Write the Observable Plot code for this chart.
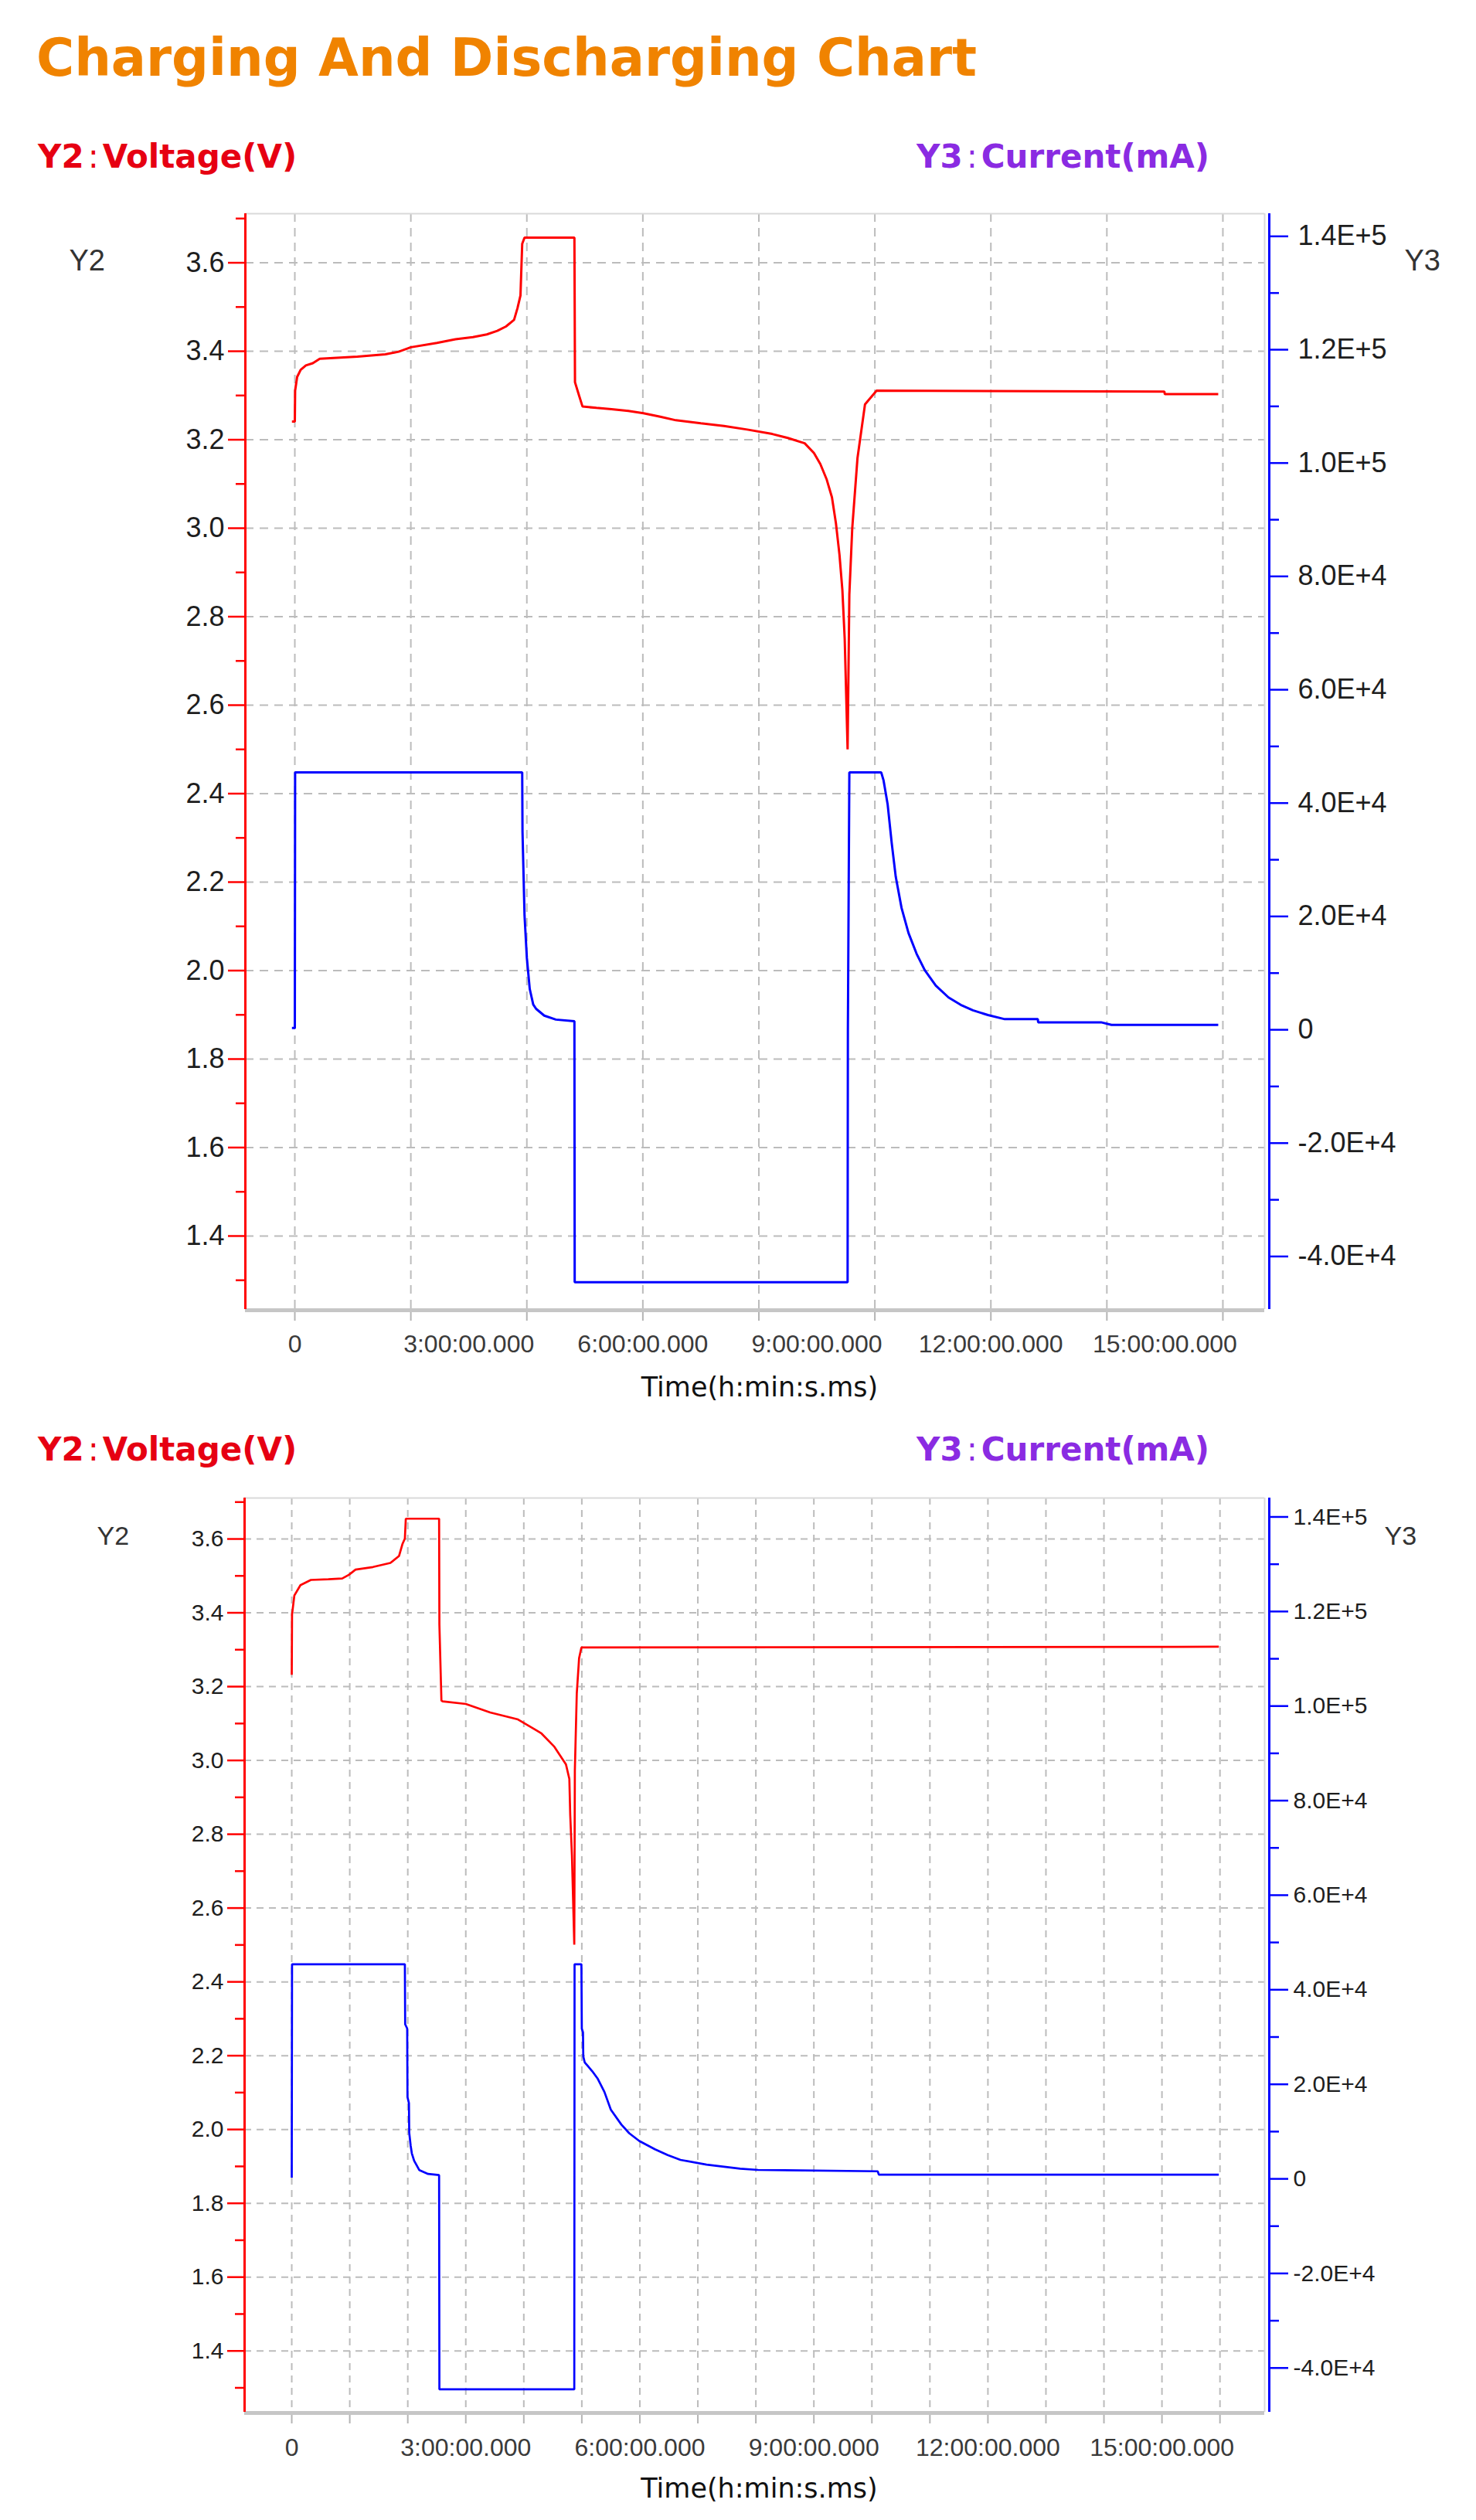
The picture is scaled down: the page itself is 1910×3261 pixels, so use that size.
<!DOCTYPE html>
<html>
<head>
<meta charset="utf-8">
<script src="https://cdn.jsdelivr.net/npm/d3@7"></script>
<script src="https://cdn.jsdelivr.net/npm/@observablehq/plot@0.6"></script>
<style>
html, body { margin: 0; padding: 0; background: #fff; overflow: hidden; }
#page { position: relative; width: 1910px; height: 3261px; overflow: hidden; background: #fff; }
.title { position: absolute; left: 47px; top: 42px; font-family: "DejaVu Sans", sans-serif; font-weight: bold; font-size: 67px; line-height: 1; color: #F08300; white-space: nowrap; }
.hdr { position: absolute; font-family: "DejaVu Sans", sans-serif; font-weight: bold; font-size: 42px; line-height: 1; white-space: nowrap; }
.hdr .colon { font-weight: normal; margin: 0 5px; }
.red { color: #E60012; }
.violet { color: #8A2BE2; }
.chart { position: absolute; left: 0; }
</style>
</head>
<body>
<div id="page">
  <div class="title">Charging And Discharging Chart</div>
  <div class="hdr red" style="left:49px; top:182px;">Y2<span class="colon">:</span>Voltage(V)</div>
  <div class="hdr violet" style="left:1186px; top:182px;">Y3<span class="colon">:</span>Current(mA)</div>
  <div class="hdr red" style="left:49px; top:1855px;">Y2<span class="colon">:</span>Voltage(V)</div>
  <div class="hdr violet" style="left:1186px; top:1855px;">Y3<span class="colon">:</span>Current(mA)</div>
</div>
<script>
// ---------- axis ticks & labels ----------
const voltDomain = [1.234, 3.711];
const currentDomain = [-49350, 144000];
const voltMajorTicks = [1.4, 1.6, 1.8, 2.0, 2.2, 2.4, 2.6, 2.8, 3.0, 3.2, 3.4, 3.6];
const voltMinorTicks = [1.3, 1.5, 1.7, 1.9, 2.1, 2.3, 2.5, 2.7, 2.9, 3.1, 3.3, 3.5, 3.7];
const currentMajorTicks = [-40000, -20000, 0, 20000, 40000, 60000, 80000, 100000, 120000, 140000];
const currentTickLabels = ["-4.0E+4", "-2.0E+4", "0", "2.0E+4", "4.0E+4", "6.0E+4", "8.0E+4", "1.0E+5", "1.2E+5", "1.4E+5"];
const currentMinorTicks = [-30000, -10000, 10000, 30000, 50000, 70000, 90000, 110000, 130000];
const timeLabelHours = [0, 3, 6, 9, 12, 15];
const timeTickLabels = ["0", "3:00:00.000", "6:00:00.000", "9:00:00.000", "12:00:00.000", "15:00:00.000"];
const grid1Hours = [0, 2, 4, 6, 8, 10, 12, 14, 16];
const grid2Hours = [0, 1, 2, 3, 4, 5, 6, 7, 8, 9, 10, 11, 12, 13, 14, 15, 16];
const time1Domain = [-0.853, 16.72];
const time2Domain = [-0.813, 16.77];

// ---------- chart 1 series (hours, V / mA) ----------
const v1Hours = [-0.05, 0, 0.005, 0.04, 0.10, 0.19, 0.31, 0.43, 1.08, 1.56, 1.79, 2.0, 2.45, 2.77, 3.07, 3.31, 3.49, 3.64, 3.78, 3.84, 3.89, 3.92, 3.96, 4.82, 4.83, 4.90, 4.96, 5.2, 5.46, 5.75, 6.01, 6.3, 6.57, 7.0, 7.4, 7.8, 8.23, 8.5, 8.79, 8.95, 9.06, 9.17, 9.26, 9.33, 9.39, 9.44, 9.48, 9.53, 9.56, 9.61, 9.70, 9.83, 10.03, 14.99, 15.0, 15.92];
const v1Volts = [3.241, 3.241, 3.311, 3.342, 3.358, 3.368, 3.373, 3.383, 3.388, 3.393, 3.399, 3.409, 3.419, 3.427, 3.432, 3.438, 3.446, 3.456, 3.471, 3.498, 3.526, 3.643, 3.657, 3.657, 3.33, 3.30, 3.275, 3.272, 3.269, 3.265, 3.260, 3.252, 3.244, 3.237, 3.231, 3.223, 3.213, 3.204, 3.192, 3.170, 3.145, 3.110, 3.070, 3.010, 2.940, 2.860, 2.750, 2.500, 2.850, 3.000, 3.158, 3.280, 3.311, 3.309, 3.303, 3.303];
const c1Hours = [-0.05, 0, 0.005, 3.92, 3.925, 3.96, 4.0, 4.05, 4.11, 4.16, 4.3, 4.5, 4.82, 4.825, 9.53, 9.535, 9.56, 10.11, 10.15, 10.22, 10.29, 10.36, 10.46, 10.58, 10.72, 10.86, 11.05, 11.27, 11.48, 11.69, 11.95, 12.24, 12.81, 12.815, 13.9, 14.08, 15.92];
const c1Current = [300, 300, 45400, 45400, 35000, 20200, 12700, 7200, 4460, 3690, 2500, 1800, 1500, -44550, -44550, 0, 45400, 45400, 44000, 39800, 33000, 27000, 21500, 17070, 13400, 10530, 7800, 5700, 4400, 3430, 2600, 1870, 1870, 1320, 1320, 860, 860];

// ---------- chart 2 series ----------
const v2Hours = [0, 0.005, 0.045, 0.15, 0.33, 0.63, 0.87, 0.985, 1.10, 1.40, 1.70, 1.85, 1.91, 1.95, 1.966, 2.54, 2.545, 2.58, 2.60, 3.0, 3.42, 3.9, 4.2, 4.305, 4.527, 4.727, 4.785, 4.80, 4.83, 4.87, 4.88, 4.913, 4.953, 4.993, 15.98];
const v2Volts = [3.232, 3.395, 3.447, 3.475, 3.489, 3.491, 3.493, 3.503, 3.517, 3.524, 3.535, 3.554, 3.587, 3.601, 3.655, 3.655, 3.368, 3.162, 3.160, 3.153, 3.130, 3.111, 3.083, 3.073, 3.037, 2.989, 2.950, 2.853, 2.741, 2.501, 2.973, 3.181, 3.277, 3.306, 3.308];
const c2Hours = [0, 0.005, 1.95, 1.955, 1.99, 1.995, 2.02, 2.025, 2.05, 2.07, 2.11, 2.2, 2.35, 2.54, 2.545, 4.87, 4.875, 4.993, 5.0, 5.02, 5.025, 5.05, 5.18, 5.27, 5.39, 5.5, 5.68, 5.817, 5.99, 6.26, 6.48, 6.7, 7.15, 7.73, 8.04, 10.1, 10.12, 15.98];
const c2Current = [245, 45400, 45400, 32700, 31800, 17300, 16000, 9750, 7000, 5390, 3820, 1830, 1040, 800, -44520, -44520, 45400, 45400, 31760, 31000, 25900, 24640, 22760, 21260, 18380, 14650, 11510, 9650, 8020, 6270, 5030, 4020, 3020, 2140, 1890, 1600, 880, 880];

const timeLabelOf = d => timeTickLabels[timeLabelHours.indexOf(d)];
const currentLabelOf = d => currentTickLabels[currentMajorTicks.indexOf(d)];

function drawChart(cfg) {
  const page = document.getElementById("page");
  const marginBottom = cfg.height - cfg.marginTop - cfg.plotHeight;
  const common = {
    width: 1910,
    height: cfg.height,
    marginLeft: cfg.marginLeft,
    marginRight: 274,
    marginTop: cfg.marginTop,
    marginBottom,
    style: {background: "none", overflow: "visible", maxWidth: "none", fontFamily: "'Liberation Sans', Arial, sans-serif"}
  };
  const voltData = cfg.vHours.map((t, i) => ({t, v: cfg.vVolts[i]}));
  const curData = cfg.cHours.map((t, i) => ({t, c: cfg.cCurrent[i]}));
  const gridStyle = {stroke: "#bcbcbc", strokeOpacity: 1, strokeWidth: 2, strokeDasharray: cfg.dash};

  const base = Plot.plot({
    ...common,
    x: {domain: cfg.timeDomain, axis: null},
    y: {domain: voltDomain, axis: null},
    marks: [
      Plot.gridY(voltMajorTicks, gridStyle),
      Plot.gridX(cfg.gridHours, gridStyle),
      Plot.ruleY([voltDomain[1]], {stroke: "#dadada", strokeWidth: 2}),
      Plot.ruleX([cfg.timeDomain[1]], {stroke: "#dadada", strokeWidth: 2}),
      Plot.axisX(cfg.gridHours, {tickSize: 15, insetTop: 6, stroke: "#b4b4b4", strokeWidth: 2, fill: "none", label: null}),
      Plot.ruleY([voltDomain[0]], {stroke: "#c6c6c6", strokeWidth: 5, dy: 1}),
      Plot.axisX(timeLabelHours, {tickSize: 0, tickPadding: cfg.xTickPad, tickFormat: timeLabelOf, fontSize: cfg.xTickFont, fill: "#3a3a3a", label: null}),
      Plot.axisY(voltMinorTicks, {tickSize: 12, stroke: "#ff0000", strokeWidth: 2.5, fill: "none", label: null}),
      Plot.axisY(voltMajorTicks, {tickSize: 22, tickPadding: 5, stroke: "#ff0000", strokeWidth: 2.5, tickFormat: d => d.toFixed(1), fontSize: cfg.yTickFont, fill: "#1e1e1e", label: null}),
      Plot.ruleX([cfg.timeDomain[0]], {stroke: "#ff0000", strokeWidth: 3}),
      Plot.line(voltData, {x: "t", y: "v", stroke: "#ff0000", strokeWidth: cfg.lineWidth, strokeLinejoin: "miter", strokeLinecap: "butt"}),
      Plot.text(["Time(h:min:s.ms)"], {text: d => d, frameAnchor: "bottom", dx: 6, dy: cfg.timeDy, lineAnchor: "top", fontSize: 35, fill: "#111", fontFamily: "DejaVu Sans"}),
      Plot.text(["Y2"], {text: d => d, frameAnchor: "top-left", textAnchor: "start", dx: cfg.y2dx, dy: cfg.labelDy, lineAnchor: "top", fontSize: cfg.axisLabelFont, fill: "#333"})
    ]
  });

  const over = Plot.plot({
    ...common,
    x: {domain: cfg.timeDomain, axis: null},
    y: {domain: currentDomain, axis: null},
    marks: [
      Plot.axisY(currentMinorTicks, {anchor: "right", tickSize: 12, insetRight: -6, stroke: "#0000ff", strokeWidth: 2.5, fill: "none", label: null}),
      Plot.axisY(currentMajorTicks, {anchor: "right", tickSize: 24, insetRight: -6, tickPadding: cfg.rightPad, stroke: "#0000ff", strokeWidth: 2.5, tickFormat: currentLabelOf, fontSize: cfg.yTickFont, fill: "#1e1e1e", label: null}),
      Plot.ruleX([cfg.timeDomain[1]], {stroke: "#0000ff", strokeWidth: 3, dx: 6}),
      Plot.line(curData, {x: "t", y: "c", stroke: "#0000ff", strokeWidth: cfg.lineWidth, strokeLinejoin: "miter", strokeLinecap: "butt"}),
      Plot.text(["Y3"], {text: d => d, frameAnchor: "top-right", textAnchor: "start", dx: cfg.y3dx, dy: cfg.labelDy, lineAnchor: "top", fontSize: cfg.axisLabelFont, fill: "#333"})
    ]
  });

  for (const svg of [base, over]) {
    const wrap = document.createElement("div");
    wrap.className = "chart";
    wrap.style.top = cfg.top + "px";
    wrap.appendChild(svg);
    page.appendChild(wrap);
  }
}

drawChart({
  top: 236, height: 1600, marginTop: 40, plotHeight: 1418, marginLeft: 317,
  timeDomain: time1Domain, gridHours: grid1Hours,
  vHours: v1Hours, vVolts: v1Volts, cHours: c1Hours, cCurrent: c1Current,
  dash: "11,8", xTickPad: 33, xTickFont: 32, yTickFont: 36, rightPad: 13,
  lineWidth: 3, timeDy: 88, y2dx: -228, y3dx: 181, labelDy: 47, axisLabelFont: 38
});

drawChart({
  top: 1900, height: 1361, marginTop: 38, plotHeight: 1183, marginLeft: 316,
  timeDomain: time2Domain, gridHours: grid2Hours,
  vHours: v2Hours, vVolts: v2Volts, cHours: c2Hours, cCurrent: c2Current,
  dash: "9,7", xTickPad: 34, xTickFont: 32, yTickFont: 30, rightPad: 7,
  lineWidth: 2.7, timeDy: 86, y2dx: -191, y3dx: 155, labelDy: 36, axisLabelFont: 34
});
</script>
</body>
</html>
